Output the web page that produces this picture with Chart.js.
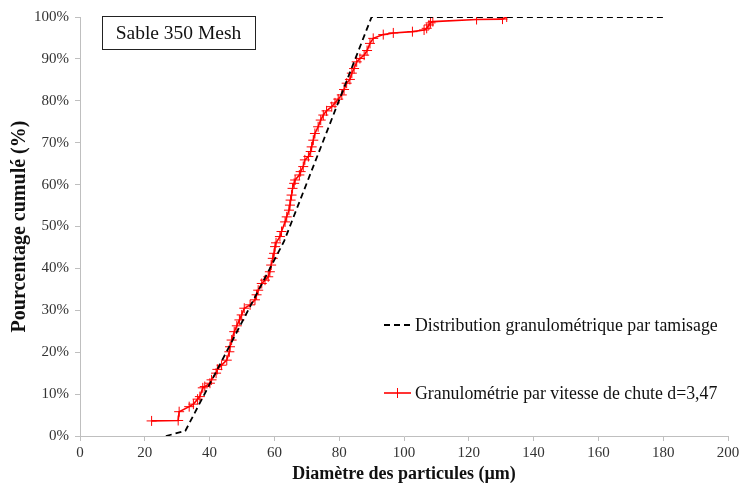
<!DOCTYPE html>
<html>
<head>
<meta charset="utf-8">
<script src="https://cdn.jsdelivr.net/npm/chart.js@4.4.0/dist/chart.umd.min.js"></script>
<style>
  html, body { margin: 0; padding: 0; background: #fff; }
  #wrap { width: 744px; height: 488px; }
</style>
</head>
<body>
<div id="wrap"><canvas id="chart" width="744" height="488"></canvas></div>
<script>
// Distribution par tamisage (courbe en pointillés)
const tamisX = [26.5, 32.5, 63, 90, 181];
const tamisY = [0, 1.2, 46.5, 100, 100];

// Granulométrie par vitesse de chute
const chuteX = [22.1, 30.3, 30.6, 33.7, 35, 36.3, 37, 37.9, 38.5, 40.1, 40.6, 42, 42.4, 43.7, 45.3, 46.1, 46.3, 46.8, 47.6, 48.4,
    49.2, 49.9, 50.7, 52.5, 54, 54.5, 55, 56.1, 57.1, 58.1, 58.6, 59, 59.5, 59.9, 60.2, 60.5, 61.7, 62.2, 63.3, 63.8,
    64.5, 64.8, 65, 65.3, 65.6, 66.1, 66.4, 67.7, 68.1, 68.9, 69.4, 70.5, 71.2, 71.5, 72, 72.5, 73.5, 74.3, 75.1, 76.1,
    77.7, 78.7, 79.7, 80.8, 81.5, 82.3, 83.3, 83.9, 84.6, 85.4, 86.4, 87.7, 88.6, 89.5, 90.5, 93.6, 96.7, 102.6, 106.2, 107,
    107.7, 108.2, 108.9, 122.4, 130.4, 131.7];
const chuteY = [3.6, 3.7, 5.8, 7.0, 7.6, 8.8, 9.4, 11.5, 11.8, 12.6, 13.4, 15, 15.9, 16.9, 18.1, 20.1, 21.3, 22.9, 24.9, 26.3,
    27.7, 28.9, 30.5, 31.3, 32.5, 33.7, 34.8, 36.4, 37.2, 38, 39.2, 40.8, 42.4, 43.6, 45.2, 46.1, 47.6, 48.8, 51.1, 52.3,
    53.9, 55.1, 56.3, 57.5, 59.1, 60.3, 61.1, 62.3, 63.1, 64.3, 65.9, 66.7, 67.9, 69, 70.6, 72.2, 73.8, 75.4, 76.6, 77.6,
    78.6, 79.5, 80.4, 81.4, 82.7, 84.2, 85.1, 86.6, 87.7, 89.3, 90.1, 90.9, 92, 93.7, 94.9, 95.8, 96.2, 96.5, 96.9, 97.3,
    98.1, 98.6, 98.9, 99.4, 99.5, 100];

const xTicks = [0, 20, 40, 60, 80, 100, 120, 140, 160, 180, 200];
const labelTamis = 'Distribution granulométrique par tamisage';
const labelChute = 'Granulométrie par vitesse de chute d=3,47';
const chartTitle = 'Sable 350 Mesh';

const FONT = '"Liberation Serif", "DejaVu Serif", serif';
const AXIS_COLOR = '#bfbfbf';

function toPoints(xs, ys) {
    return xs.map((x, i) => ({ x: x, y: ys[i] }));
}

// Cadre du titre + légende dans la zone du graphique
const overlayPlugin = {
    id: 'overlay',
    afterDraw(chart) {
        const ctx = chart.ctx;
        ctx.save();

        // cadre "Sable 350 Mesh"
        ctx.fillStyle = '#fff';
        ctx.fillRect(102, 16, 153, 33);
        ctx.strokeStyle = '#222';
        ctx.lineWidth = 1;
        ctx.strokeRect(102.5, 16.5, 153, 33);
        ctx.fillStyle = '#111';
        ctx.font = '19.5px ' + FONT;
        ctx.textAlign = 'center';
        ctx.textBaseline = 'middle';
        ctx.fillText(chartTitle, 178.5, 34);

        // légende
        ctx.textAlign = 'left';
        ctx.font = '17.8px ' + FONT;
        const items = [
            { ds: chart.data.datasets[0], y: 325 },
            { ds: chart.data.datasets[1], y: 393 }
        ];
        items.forEach(item => {
            ctx.strokeStyle = item.ds.borderColor;
            ctx.lineWidth = item.ds.borderWidth;
            ctx.setLineDash(item.ds.borderDash || []);
            ctx.beginPath();
            ctx.moveTo(384, item.y);
            ctx.lineTo(411, item.y);
            ctx.stroke();
            ctx.setLineDash([]);
            if (item.ds.pointRadius > 0) {
                ctx.lineWidth = 1;
                ctx.beginPath();
                ctx.moveTo(397.5, item.y - 5);
                ctx.lineTo(397.5, item.y + 5);
                ctx.stroke();
            }
            ctx.fillStyle = '#111';
            ctx.fillText(item.ds.label, 415, item.y + 1);
        });
        ctx.restore();
    }
};

document.addEventListener('DOMContentLoaded', function() {
    const ctx = document.getElementById('chart').getContext('2d');

    new Chart(ctx, {
        type: 'scatter',
        data: {
            datasets: [
                {
                    label: labelTamis,
                    data: toPoints(tamisX, tamisY),
                    showLine: true,
                    borderColor: '#000',
                    borderWidth: 1.8,
                    borderDash: [6, 4],
                    pointRadius: 0,
                    fill: false
                },
                {
                    label: labelChute,
                    data: toPoints(chuteX, chuteY),
                    showLine: true,
                    borderColor: '#ff0000',
                    borderWidth: 1.6,
                    pointStyle: 'cross',
                    pointRadius: 5,
                    pointBorderWidth: 1,
                    pointBorderColor: '#ff0000',
                    fill: false
                }
            ]
        },
        options: {
            responsive: false,
            animation: false,
            layout: { padding: { top: 17, right: 16, bottom: 0, left: 0 } },
            plugins: {
                legend: { display: false },
                tooltip: { enabled: false }
            },
            scales: {
                x: {
                    type: 'linear',
                    min: 0,
                    max: 200,
                    afterFit: scale => { scale.height = 52; },
                    afterBuildTicks: scale => { scale.ticks = xTicks.map(v => ({ value: v })); },
                    grid: { drawOnChartArea: false, tickLength: 5, color: AXIS_COLOR },
                    border: { color: AXIS_COLOR },
                    ticks: { color: '#333', font: { family: FONT, size: 15 }, padding: 3, maxRotation: 0 },
                    title: {
                        display: true,
                        text: 'Diamètre des particules (µm)',
                        color: '#111',
                        font: { family: FONT, size: 18, weight: 'bold' },
                        padding: { top: 0, bottom: 3 }
                    }
                },
                y: {
                    type: 'linear',
                    min: 0,
                    max: 100,
                    afterFit: scale => { scale.width = 80; },
                    grid: { drawOnChartArea: false, tickLength: 5, color: AXIS_COLOR },
                    border: { color: AXIS_COLOR },
                    ticks: {
                        stepSize: 10,
                        color: '#333',
                        font: { family: FONT, size: 15 },
                        padding: 6,
                        callback: v => v + '%'
                    },
                    title: {
                        display: true,
                        text: 'Pourcentage cumulé (%)',
                        color: '#111',
                        font: { family: FONT, size: 20, weight: 'bold' },
                        padding: { top: 8, bottom: 0 }
                    }
                }
            }
        },
        plugins: [overlayPlugin]
    });
});
</script>
</body>
</html>
